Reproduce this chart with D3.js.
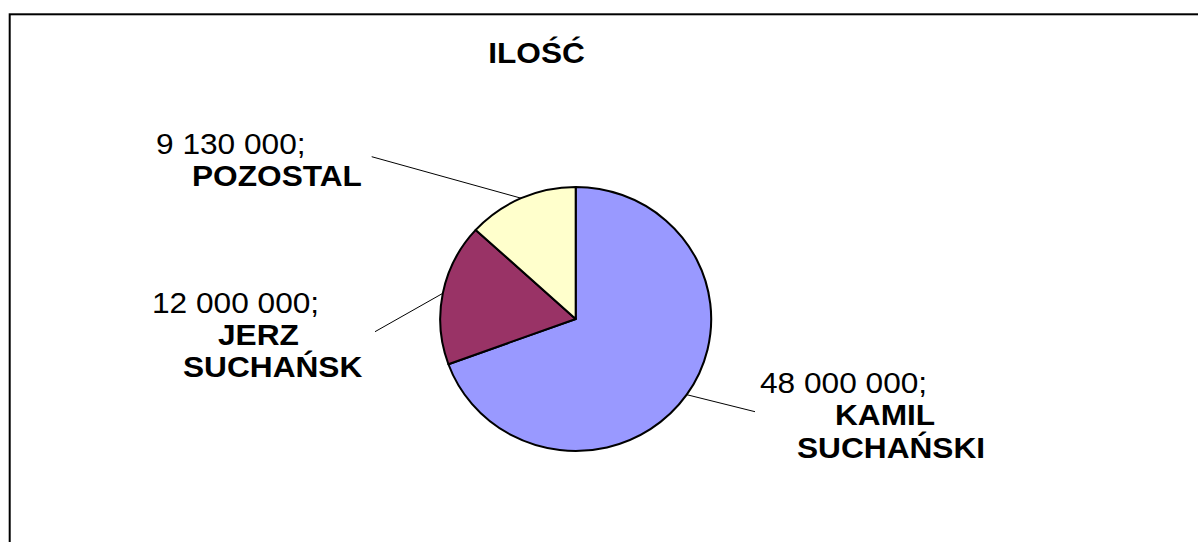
<!DOCTYPE html>
<html>
<head>
<meta charset="utf-8">
<script src="https://cdn.jsdelivr.net/npm/d3@7"></script>
<style>
  body { margin: 0; background: #fff; }
  text { font-family: "Liberation Sans", Arial, sans-serif; }
</style>
</head>
<body>
<div id="chart-area"></div>
<script>
// data
var categories = ["KAMIL SUCHAŃSKI", "JERZ SUCHAŃSK", "POZOSTAL"];
var values = [48000000, 12000000, 9130000];
var colors = ["#9999FF", "#993366", "#FFFFCC"];
var title = "ILOŚĆ";

var width = 1198, height = 542;
var cx = 575.7, cy = 319, rx = 135.5, ry = 132;
var fontSize = 30;
var stretch = 1.055; // text is drawn a bit wider than the font's own glyphs

// label layout: leader end point, then [x, y] of each text line
var labelLayout = [
	{ end: [755, 411.7], lines: [[760, 393], [835, 425], [797, 458]] },
	{ end: [375, 331.7], lines: [[152, 313], [218, 345], [183, 377]] },
	{ end: [371.7, 156.7], lines: [[156, 154], [192, 186]] }
];

var fmt = d3.formatLocale({ thousands: " ", grouping: [3], decimal: "," }).format(",");

var svg = d3.select("#chart-area")
	.append("svg")
	.attr("width", width)
	.attr("height", height);

// frame
svg.append("rect")
	.attr("x", 9.7)
	.attr("y", 14.3)
	.attr("width", width + 20)
	.attr("height", height + 20)
	.attr("fill", "none")
	.attr("stroke", "#000")
	.attr("stroke-width", 2);

// title
svg.append("text")
	.attr("transform", "translate(536.5,63) scale(" + stretch + ",1)")
	.attr("text-anchor", "middle")
	.attr("font-size", fontSize + "px")
	.attr("font-weight", "bold")
	.text(title);

var slices = categories.map(function (c, i) {
	return { name: c, value: values[i], color: colors[i], layout: labelLayout[i] };
});

var pie = d3.pie()
	.sort(null)
	.value(function (d) { return d.value; });

var arc = d3.arc()
	.innerRadius(0)
	.outerRadius(ry);

var arcs = pie(slices);

var g = svg.append("g")
	.attr("transform", "translate(" + cx + "," + cy + ") scale(" + (rx / ry) + ",1)");

g.selectAll("path")
	.data(arcs)
	.enter()
	.append("path")
	.attr("d", arc)
	.attr("fill", function (d) { return d.data.color; })
	.attr("stroke", "#000")
	.attr("stroke-width", 2)
	.attr("stroke-linejoin", "round");

// leader lines
svg.selectAll("line.leader")
	.data(arcs)
	.enter()
	.append("line")
	.attr("class", "leader")
	.attr("x1", function (d) {
		var a = (d.startAngle + d.endAngle) / 2;
		return cx + Math.sin(a) * rx;
	})
	.attr("y1", function (d) {
		var a = (d.startAngle + d.endAngle) / 2;
		return cy - Math.cos(a) * ry;
	})
	.attr("x2", function (d) { return d.data.layout.end[0]; })
	.attr("y2", function (d) { return d.data.layout.end[1]; })
	.attr("stroke", "#000")
	.attr("stroke-width", 1);

// labels
arcs.forEach(function (d) {
	var lines = [fmt(d.data.value) + ";"].concat(d.data.name.split(" "));
	lines.forEach(function (t, j) {
		var p = d.data.layout.lines[j];
		svg.append("text")
			.attr("transform", "translate(" + p[0] + "," + p[1] + ") scale(" + stretch + ",1)")
			.attr("font-size", fontSize + "px")
			.attr("font-weight", j === 0 ? "normal" : "bold")
			.attr("fill", "#000")
			.text(t);
	});
});
</script>
</body>
</html>
